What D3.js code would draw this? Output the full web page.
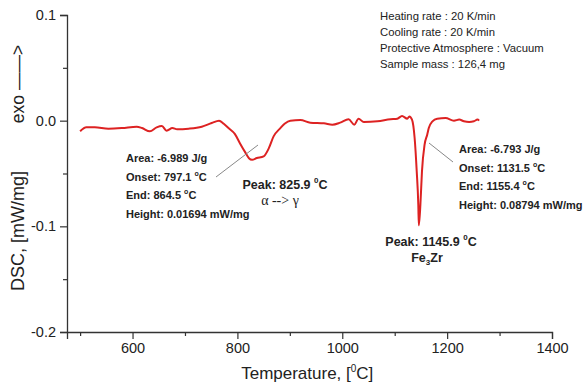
<!DOCTYPE html>
<html>
<head>
<meta charset="utf-8">
<script src="https://d3js.org/d3.v7.min.js"></script>
<style>
  body { margin: 0; background: #fff; }
  text { font-family: "Liberation Sans", Arial, sans-serif; fill: #222; }
</style>
</head>
<body>
<div id="chart"></div>
<script>
// DSC curve
var temps = [500, 512, 528, 554, 580, 608, 618, 633, 646, 656, 665, 676, 685, 707, 732, 751, 765, 774, 783, 795,
  805, 815, 822, 828, 837, 850, 860, 869, 882, 890, 901, 920, 939, 965, 981, 996, 1012, 1023, 1031, 1041,
  1067, 1092, 1105, 1114, 1124, 1128, 1133, 1138, 1142, 1145, 1146, 1149, 1152, 1157, 1162, 1165, 1172,
  1181, 1197, 1213, 1223, 1232, 1242, 1251, 1258, 1261];
var dsc = [-0.0101, -0.0063, -0.0063, -0.0076, -0.0070, -0.0057, -0.0070, -0.0101, -0.0063, -0.0050, -0.0095,
  -0.0070, -0.0082, -0.0076, -0.0057, -0.0022, 0.0000, -0.0030, -0.0070, -0.0125, -0.0215, -0.0300, -0.0355,
  -0.0370, -0.0354, -0.0338, -0.0260, -0.0149, -0.0070, -0.0030, 0.0000, 0.0006, -0.0019, -0.0025, -0.0038,
  -0.0019, 0.0013, -0.0038, 0.0019, -0.0013, -0.0006, 0.0013, 0.0019, 0.0044, 0.0019, 0.0040, 0.0010,
  -0.0164, -0.0480, -0.0796, -0.0990, -0.0796, -0.0480, -0.0227, -0.0133, -0.0070, -0.0006, 0.0019, 0.0025,
  0.0000, 0.0010, -0.0006, -0.0013, -0.0006, 0.0010, 0.0000];

var xMajor = [600, 800, 1000, 1200, 1400];
var xMinor = [500, 700, 900, 1100, 1300];
var yMajor = [-0.2, -0.1, 0.0, 0.1];
var yMinor = [-0.15, -0.05, 0.05];

var infoLines = ["Heating rate : 20 K/min", "Cooling rate : 20 K/min",
  "Protective Atmosphere : Vacuum", "Sample mass : 126,4 mg"];

// peak annotations: [label, value, unit]
var peak1Lines = [["Area: ", "-6.989", " J/g"], ["Onset: ", "797.1", " °C"],
  ["End: ", "864.5", " °C"], ["Height: ", "0.01694", " mW/mg"]];
var peak2Lines = [["Area: ", "-6.793", " J/g"], ["Onset: ", "1131.5", " °C"],
  ["End: ", "1155.4", " °C"], ["Height: ", "0.08794", " mW/mg"]];

var svgWidth = 585;
var svgHeight = 387;

var margin = { top: 15, right: 33, bottom: 55, left: 67 };
var width = svgWidth - margin.left - margin.right;
var height = svgHeight - margin.top - margin.bottom;

var svg = d3.select("#chart")
  .append("svg")
  .attr("width", svgWidth)
  .attr("height", svgHeight);

var chartGroup = svg.append("g")
  .attr("transform", `translate(${margin.left}, ${margin.top})`);

var x = d3.scaleLinear().domain([475, 1400]).range([0, width]);
var y = d3.scaleLinear().domain([-0.2, 0.1]).range([height, 0]);

// axes
var xAxis = chartGroup.append("g")
  .attr("transform", `translate(0, ${height})`)
  .call(d3.axisBottom(x).tickValues(xMajor).tickSize(7).tickPadding(4).tickFormat(d3.format("d")));
chartGroup.append("g")
  .attr("transform", `translate(0, ${height})`)
  .call(d3.axisBottom(x).tickValues(xMinor).tickSize(4).tickFormat(""))
  .select(".domain").remove();

var yAxis = chartGroup.append("g")
  .call(d3.axisLeft(y).tickValues(yMajor).tickSize(7).tickPadding(4).tickFormat(d3.format(".1f")));
chartGroup.append("g")
  .call(d3.axisLeft(y).tickValues(yMinor).tickSize(4).tickFormat(""))
  .select(".domain").remove();

chartGroup.selectAll(".domain").attr("stroke", "#333").attr("stroke-width", 1.3);
chartGroup.selectAll(".tick line").attr("stroke", "#333").attr("stroke-width", 1.2);
chartGroup.selectAll(".tick text")
  .style("font-family", "Liberation Sans, Arial, sans-serif")
  .style("font-size", "14.5px")
  .attr("fill", "#222");

// replace the minus sign with a hyphen like the original
yAxis.selectAll(".tick text").text(function(d) { return d3.format(".1f")(d).replace("−", "-"); });

// axis titles
var xTitle = svg.append("text")
  .attr("x", margin.left + x(1000) - 35)
  .attr("y", 379)
  .attr("text-anchor", "middle")
  .style("font-size", "17px");
xTitle.append("tspan").text("Temperature, [");
xTitle.append("tspan").attr("dy", -7).style("font-size", "10px").text("0");
xTitle.append("tspan").attr("dy", 7).text("C]");

svg.append("text")
  .attr("transform", "translate(24, 231)rotate(-90)")
  .attr("text-anchor", "middle")
  .style("font-size", "18px")
  .text("DSC, [mW/mg]");

svg.append("text")
  .attr("transform", "translate(24, 84)rotate(-90)")
  .attr("text-anchor", "middle")
  .style("font-size", "17.5px")
  .text("exo ——>");

// curve
var points = temps.map(function(t, i) { return [t, dsc[i]]; });
var line = d3.line()
  .x(function(d) { return x(d[0]); })
  .y(function(d) { return y(d[1]); })
  .curve(d3.curveMonotoneX);

chartGroup.append("path")
  .datum(points)
  .attr("fill", "none")
  .attr("stroke", "#dd2222")
  .attr("stroke-width", 2)
  .attr("stroke-linejoin", "round")
  .attr("d", line);

// info block top right
svg.append("g").selectAll("text")
  .data(infoLines)
  .enter()
  .append("text")
  .attr("x", 380)
  .attr("y", function(d, i) { return 20 + i * 16; })
  .style("font-size", "11.3px")
  .text(function(d) { return d; });

function drawBlock(lines, x0, y0, step) {
  lines.forEach(function(l, i) {
    var t = svg.append("text")
      .attr("x", x0)
      .attr("y", y0 + i * step)
      .style("font-size", "11px")
      .style("font-weight", "bold");
    t.append("tspan").text(l[0] + l[1]);
    if (l[2].indexOf("°") >= 0) {
      t.append("tspan").text(" ");
      t.append("tspan").attr("dy", -5).style("font-size", "7px").text("o");
      t.append("tspan").attr("dy", 5).text("C");
    } else {
      t.append("tspan").text(l[2]);
    }
  });
}
drawBlock(peak1Lines, 126, 162, 18.5);
drawBlock(peak2Lines, 459, 153, 18.5);

// leader lines
svg.append("line")
  .attr("x1", 216).attr("y1", 177).attr("x2", 258).attr("y2", 145)
  .attr("stroke", "#888").attr("stroke-width", 1);
svg.append("line")
  .attr("x1", 429).attr("y1", 143).attr("x2", 453).attr("y2", 162)
  .attr("stroke", "#888").attr("stroke-width", 1);

// peak labels
function peakLabel(cx, cy, value) {
  var t = svg.append("text")
    .attr("x", cx)
    .attr("y", cy)
    .attr("text-anchor", "middle")
    .style("font-size", "12.5px")
    .style("font-weight", "bold");
  t.append("tspan").text("Peak: " + value + " ");
  t.append("tspan").attr("dy", -6).style("font-size", "8px").text("0");
  t.append("tspan").attr("dy", 6).text("C");
}
peakLabel(285, 189, "825.9");
peakLabel(431, 246, "1145.9");

svg.append("text")
  .attr("x", 280)
  .attr("y", 205)
  .attr("text-anchor", "middle")
  .style("font-family", "Liberation Serif, Times New Roman, serif")
  .style("font-size", "14px")
  .text("α --> γ");

var fe = svg.append("text")
  .attr("x", 427)
  .attr("y", 262)
  .attr("text-anchor", "middle")
  .style("font-size", "12.5px")
  .style("font-weight", "bold");
fe.append("tspan").text("Fe");
fe.append("tspan").attr("dy", 3).style("font-size", "8px").text("3");
fe.append("tspan").attr("dy", -3).text("Zr");
</script>
</body>
</html>
